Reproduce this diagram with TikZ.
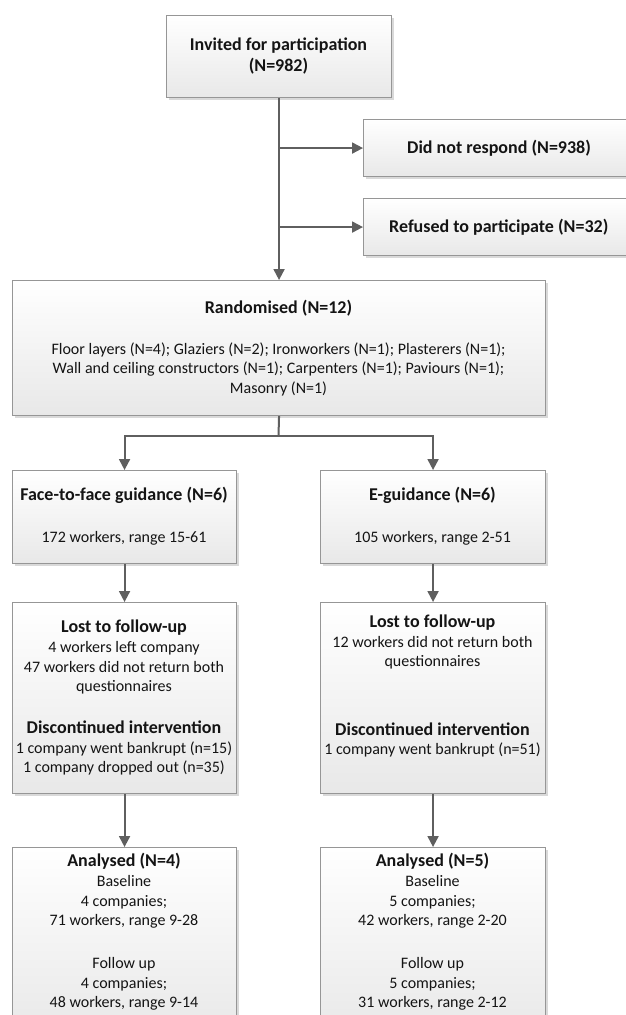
\documentclass[tikz,border=0pt]{standalone}
\usepackage{fontspec}
\setmainfont{Carlito}
\usetikzlibrary{arrows.meta,shadows}
\definecolor{boxline}{RGB}{150,150,150}
\definecolor{conn}{RGB}{95,95,95}
\definecolor{boxbot}{RGB}{232,232,232}
\definecolor{txt}{RGB}{20,20,20}
\begin{document}
\begin{tikzpicture}[x=1pt,y=-1pt,
  box/.style={draw=boxline, line width=1.1pt, top color=white, bottom color=boxbot,
    drop shadow={shadow xshift=2.5pt,shadow yshift=-2.5pt,fill=black,opacity=0.15},
    anchor=north west, inner sep=0pt},
  tx/.style={align=center, text=txt, inner sep=0pt, font=\fontsize{16}{19.5}\selectfont},
  tt/.style={align=center, text=txt, inner sep=0pt, font=\fontsize{18}{21}\selectfont\bfseries},
  conn/.style={draw=conn, line width=2pt},
  arr/.style={conn, -{Triangle[length=11pt,width=11pt]}}]
\useasboundingbox[fill=white] (0,0) rectangle (625,1015);

% boxes
\node[box, minimum width=225pt, minimum height=82pt] (inv) at (166,15) {};
\node[box, minimum width=280pt, minimum height=57pt] (dnr) at (363,119) {};
\node[box, minimum width=280pt, minimum height=57pt] (ref) at (363,198) {};
\node[box, minimum width=533pt, minimum height=135pt] (rand) at (12,280) {};
\node[box, minimum width=224pt, minimum height=93pt] (face) at (12,470) {};
\node[box, minimum width=225pt, minimum height=93pt] (eg) at (320,470) {};
\node[box, minimum width=224pt, minimum height=191pt] (lostL) at (12,602) {};
\node[box, minimum width=225pt, minimum height=191pt] (lostR) at (320,602) {};
\node[box, minimum width=224pt, minimum height=190pt] (anL) at (12,847) {};
\node[box, minimum width=225pt, minimum height=190pt] (anR) at (320,847) {};

% texts
\node[tt] (inv-t) at (278.5,56.5) {Invited for participation\\(N=982)};
\node[tt, anchor=west] (dnr-t) at (407,148) {Did not respond (N=938)};
\node[tt, anchor=west] (ref-t) at (389,227) {Refused to participate (N=32)};
\node[tt] (rand-t) at (278.5,308) {Randomised (N=12)};
\node[tx] (rand-b) at (278.5,369) {Floor layers (N=4); Glaziers (N=2); Ironworkers (N=1); Plasterers (N=1);\\
  Wall and ceiling constructors (N=1); Carpenters (N=1); Paviours (N=1);\\Masonry (N=1)};
\node[tt] (face-t) at (124,495) {Face-to-face guidance (N=6)};
\node[tx] (face-b) at (124,538) {172 workers, range 15-61};
\node[tt] (eg-t) at (432.5,495) {E-guidance (N=6)};
\node[tx] (eg-b) at (432.5,538) {105 workers, range 2-51};
\node[tt] (lostL-t) at (124,628) {Lost to follow-up};
\node[tx] (lostL-a) at (124,668) {4 workers left company\\47 workers did not return both\\questionnaires};
\node[tt] (lostL-u) at (124,727) {Discontinued intervention};
\node[tx] (lostL-b) at (124,758.5) {1 company went bankrupt (n=15)\\1 company dropped out (n=35)};
\node[tt] (lostR-t) at (432.5,623) {Lost to follow-up};
\node[tx] (lostR-a) at (432.5,652.5) {12 workers did not return both\\questionnaires};
\node[tt] (lostR-u) at (432.5,729) {Discontinued intervention};
\node[tx] (lostR-b) at (432.5,750) {1 company went bankrupt (n=51)};
\node[tt] (anL-t) at (124,861) {Analysed (N=4)};
\node[tx] (anL-a) at (124,902) {Baseline\\4 companies;\\71 workers, range 9-28};
\node[tx] (anL-b) at (124,984) {Follow up\\4 companies;\\48 workers, range 9-14};
\node[tt] (anR-t) at (432.5,861) {Analysed (N=5)};
\node[tx] (anR-a) at (432.5,902) {Baseline\\5 companies;\\42 workers, range 2-20};
\node[tx] (anR-b) at (432.5,984) {Follow up\\5 companies;\\31 workers, range 2-12};

% connectors
\draw[arr] (inv.south) -- (rand.north);
\coordinate (b1) at (inv.south |- dnr.west);
\coordinate (b2) at (inv.south |- ref.west);
\draw[arr] (b1) -- (dnr.west);
\draw[arr] (b2) -- (ref.west);
\coordinate (sp) at (278.5,436);
\draw[conn] (rand.south) -- (sp);
\draw[arr] (sp) -| (face.north);
\draw[arr] (sp) -| (eg.north);
\draw[arr] (face.south) -- (lostL.north);
\draw[arr] (eg.south) -- (lostR.north);
\draw[arr] (lostL.south) -- (anL.north);
\draw[arr] (lostR.south) -- (anR.north);
\end{tikzpicture}
\end{document}
